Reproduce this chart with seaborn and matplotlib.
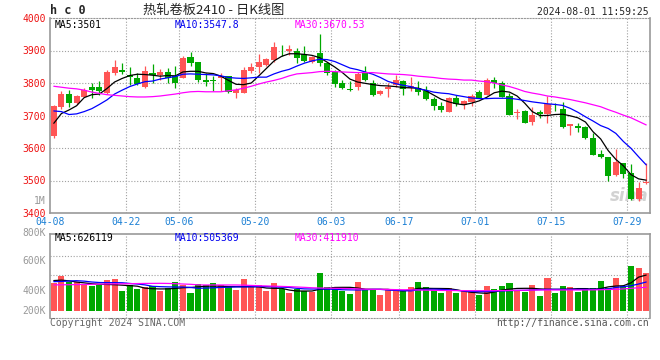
import numpy as np
import pandas as pd
import seaborn as sns
import matplotlib.pyplot as plt

# daily candles, 04-08 .. 07-31
opens = [3637, 3726, 3767, 3738, 3758, 3789, 3789, 3769, 3830, 3840,
         3825, 3815, 3789, 3832, 3825, 3834, 3820, 3814, 3880, 3865,
         3810, 3810, 3814, 3822, 3769, 3769, 3838, 3849, 3856, 3871,
         3903, 3899, 3899, 3889, 3866, 3892, 3863, 3835, 3800, 3782,
         3789, 3830, 3800, 3766, 3782, 3794, 3807, 3784, 3786,
         3774, 3751, 3730, 3712, 3753, 3733, 3743, 3771, 3764, 3810,
         3801, 3761, 3707, 3714, 3681, 3712, 3705, 3730, 3720, 3669,
         3669, 3666, 3632, 3582, 3571, 3518, 3554, 3524, 3442, 3491]
highs = [3732, 3776, 3779, 3762, 3785, 3801, 3807, 3840, 3871, 3862,
         3848, 3832, 3851, 3860, 3842, 3845, 3851, 3884, 3894, 3865,
         3832, 3823, 3830, 3822, 3786, 3850, 3862, 3889, 3877, 3926,
         3917, 3917, 3907, 3914, 3883, 3951, 3866, 3840, 3810, 3805,
         3835, 3853, 3808, 3779, 3799, 3825, 3810, 3818, 3807,
         3791, 3758, 3743, 3758, 3764, 3748, 3767, 3779, 3815, 3820,
         3807, 3769, 3720, 3717, 3726, 3717, 3761, 3740, 3743, 3674,
         3676, 3668, 3646, 3594, 3571, 3596, 3554, 3551, 3494, 3554]
lows = [3632, 3720, 3726, 3736, 3756, 3753, 3764, 3767, 3825, 3827,
        3794, 3794, 3784, 3799, 3810, 3799, 3784, 3814, 3853, 3802,
        3792, 3776, 3776, 3769, 3753, 3769, 3832, 3832, 3853, 3866,
        3882, 3887, 3861, 3864, 3861, 3853, 3825, 3789, 3781, 3774,
        3777, 3805, 3761, 3762, 3758, 3789, 3764, 3774, 3764,
        3748, 3717, 3712, 3710, 3730, 3720, 3730, 3753, 3762, 3786,
        3756, 3702, 3690, 3678, 3671, 3691, 3678, 3715, 3663, 3640,
        3648, 3628, 3579, 3569, 3500, 3515, 3509, 3439, 3436, 3488]
closes = [3728, 3767, 3740, 3760, 3779, 3779, 3774, 3834, 3848, 3835,
          3818, 3796, 3837, 3825, 3834, 3815, 3801, 3878, 3863, 3808,
          3804, 3805, 3822, 3771, 3779, 3840, 3849, 3865, 3874, 3910,
          3901, 3904, 3876, 3869, 3879, 3863, 3832, 3797, 3786, 3780,
          3828, 3810, 3764, 3776, 3789, 3808, 3781, 3791, 3773,
          3751, 3728, 3717, 3753, 3736, 3745, 3760, 3755, 3810, 3799,
          3758, 3702, 3712, 3678, 3702, 3705, 3736, 3728, 3666, 3674,
          3663, 3632, 3579, 3571, 3515, 3557, 3521, 3442, 3477, 3495]

ma5 = [3676, 3706, 3717, 3730, 3755, 3764, 3766, 3783, 3803, 3814,
       3823, 3827, 3826, 3824, 3821, 3823, 3822, 3834, 3836, 3836,
       3831, 3829, 3821, 3808, 3796, 3795, 3800, 3822, 3845, 3868,
       3882, 3890, 3890, 3888, 3885, 3878, 3864, 3849, 3832, 3812,
       3803, 3799, 3795, 3792, 3791, 3789, 3786, 3785, 3784,
       3776, 3763, 3750, 3742, 3736, 3733, 3738, 3745, 3756, 3770,
       3775, 3772, 3760, 3738, 3712, 3700, 3700, 3703, 3704, 3699,
       3693, 3680, 3650, 3628, 3592, 3565, 3545, 3518, 3505, 3501]
ma10 = [3714, 3712, 3703, 3705, 3712, 3721, 3734, 3748, 3766, 3778,
        3789, 3797, 3804, 3806, 3812, 3816, 3820, 3827, 3828, 3827,
        3826, 3825, 3822, 3817, 3815, 3814, 3816, 3818, 3818, 3828,
        3836, 3842, 3852, 3861, 3868, 3873, 3872, 3866, 3856, 3846,
        3841, 3834, 3827, 3817, 3805, 3798, 3793, 3789, 3782,
        3778, 3772, 3769, 3767, 3762, 3758, 3754, 3752, 3752, 3753,
        3753, 3753, 3750, 3746, 3742, 3739, 3736, 3734, 3731, 3722,
        3710, 3696, 3683, 3669, 3660, 3645, 3620, 3599, 3573, 3548]
ma30 = [3790, 3787, 3784, 3782, 3778, 3772, 3768, 3764, 3762, 3760,
        3758, 3757, 3757, 3758, 3760, 3763, 3766, 3770, 3773, 3774,
        3773, 3773, 3773, 3776, 3779, 3784, 3790, 3797, 3803, 3808,
        3814, 3822, 3828, 3830, 3832, 3835, 3836, 3835, 3834, 3833,
        3832, 3832, 3832, 3830, 3828, 3827, 3826, 3824, 3821,
        3819, 3817, 3814, 3812, 3811, 3809, 3809, 3806, 3804, 3800,
        3794, 3789, 3782, 3774, 3769, 3765, 3760, 3757, 3753, 3749,
        3744, 3739, 3733, 3727, 3718, 3710, 3701, 3693, 3682, 3671]

# volume, thousands of lots
volume = [482, 615, 511, 511, 465, 435, 453, 540, 557, 348,
          453, 378, 424, 435, 348, 406, 511, 453, 319, 470,
          453, 494, 453, 435, 366, 557, 412, 453, 354, 494,
          383, 319, 378, 348, 325, 667, 412, 424, 348, 296,
          511, 377, 377, 279, 377, 366, 354, 424, 511,
          424, 366, 319, 406, 319, 366, 337, 279, 435, 377,
          435, 494, 366, 337, 453, 261, 580, 308, 435, 412,
          337, 395, 395, 522, 395, 580, 435, 784, 755, 656]
vol_ma5 = [530, 538, 525, 505, 490, 475, 466, 462, 458, 450,
           442, 432, 398, 388, 384, 385, 393, 405, 410, 420,
           432, 435, 432, 425, 424, 424, 424, 420, 400, 395,
           395, 365, 348, 348, 348, 378, 390, 410, 412, 412,
           400, 380, 377, 377, 377, 360, 350, 365, 395,
           395, 393, 392, 390, 370, 345, 325, 315, 308, 330,
           365, 380, 393, 395, 395, 385, 378, 378, 378, 382,
           390, 390, 380, 390, 420, 435, 440, 490, 590, 626]
vol_ma10 = [511, 515, 522, 528, 520, 505, 496, 494, 494, 492,
            480, 470, 455, 430, 424, 420, 418, 418, 410, 395,
            400, 405, 410, 415, 420, 420, 422, 425, 425, 420,
            415, 410, 395, 385, 383, 385, 380, 378, 370, 368,
            366, 370, 377, 377, 365, 360, 355, 350, 370,
            377, 380, 377, 370, 360, 348, 340, 337, 338, 345,
            350, 354, 358, 360, 366, 372, 377, 377, 377, 377,
            377, 377, 377, 377, 385, 410, 424, 440, 470, 505]
vol_ma30 = [455, 456, 458, 460, 462, 465, 468, 470, 472, 474,
            476, 478, 480, 481, 482, 480, 476, 470, 465, 455,
            453, 453, 453, 453, 453, 450, 445, 440, 436, 432,
            428, 424, 418, 412, 405, 400, 398, 395, 393, 390,
            385, 380, 378, 378, 376, 372, 370, 370, 366,
            363, 360, 358, 357, 356, 355, 354, 354, 354, 354,
            356, 358, 360, 362, 364, 366, 366, 366, 366, 366,
            366, 366, 368, 370, 374, 378, 385, 395, 405, 412]

tick_days = [0, 10, 17, 27, 37, 46, 56, 66, 76]
tick_labels = ['04-08', '04-22', '05-06', '05-20', '06-03', '06-17', '07-01', '07-15', '07-29']
price_ticks = [3400, 3500, 3600, 3700, 3800, 3900, 4000]

RED = '#ff5555'
GREEN = '#00a800'
GRID = '#a0a0a0'
MONO = 'DejaVu Sans Mono'
FS = 7

sns.set_style('white')
plt.rcParams['font.family'] = ['DejaVu Sans Mono', 'Noto Sans CJK SC']

n = len(closes)
df = pd.DataFrame({'day': np.arange(n), 'open': opens, 'high': highs, 'low': lows,
                   'close': closes, 'ma5': ma5, 'ma10': ma10, 'ma30': ma30,
                   'vol': np.array(volume) * 1000.0, 'vma5': np.array(vol_ma5) * 1000.0,
                   'vma10': np.array(vol_ma10) * 1000.0, 'vma30': np.array(vol_ma30) * 1000.0})
df['up'] = np.where(df['close'] >= df['open'], 'up', 'down')

W, H = 660, 360
fig = plt.figure(figsize=(W / 100, H / 100), dpi=100)
ax = fig.add_axes([50 / W, 1 - 213 / H, 600 / W, 195 / H])
axv = fig.add_axes([50 / W, 1 - 318 / H, 600 / W, 84 / H])

dots = (0, (1, 1.6))
for a in (ax, axv):
    a.set_xlim(-0.5, n - 0.5)
    for d in tick_days[1:]:
        a.axvline(d - 0.5, color=GRID, lw=0.8, ls=dots, zorder=0)
    for s in ('left', 'right', 'bottom', 'top'):
        a.spines[s].set_color('#999999')
        a.spines[s].set_linewidth(1.2)
    a.tick_params(length=0)

# price panel
ax.set_ylim(3400, 4000)
for p in price_ticks[1:-1]:
    ax.axhline(p, color=GRID, lw=0.8, ls=dots, zorder=0)
ax.spines['top'].set_linestyle(dots)
ax.spines['top'].set_linewidth(0.8)

colors = np.where(df['up'] == 'up', RED, GREEN)
ax.vlines(df['day'], df['low'], df['high'], colors=colors, lw=0.9, zorder=2)
body_lo = np.minimum(df['open'], df['close'])
body_h = np.maximum(np.abs(df['close'] - df['open']), 1.2)
ax.bar(df['day'], body_h, bottom=body_lo, width=0.8, color=colors, lw=0, zorder=3)

for col, c in (('ma5', 'black'), ('ma10', '#0000ff'), ('ma30', '#ff00ff')):
    sns.lineplot(data=df, x='day', y=col, color=c, lw=0.9, ax=ax, zorder=4)

ax.set_yticks(price_ticks)
ax.set_yticklabels([str(p) for p in price_ticks], color='#ee1111', fontsize=FS, family=MONO)
ax.set_xticks([d - 0.5 for d in tick_days])
ax.set_xticklabels(tick_labels, color='#1a7fd4', fontsize=FS, family=MONO)
ax.tick_params(axis='y', pad=3)
ax.tick_params(axis='x', pad=3)
ax.set_xlabel('')
ax.set_ylabel('')
ax.text(0.008, 0.965, 'MA5:3501', transform=ax.transAxes, fontsize=FS, color='black', va='center', family=MONO)
ax.text(0.207, 0.965, 'MA10:3547.8', transform=ax.transAxes, fontsize=FS, color='#0000ee', va='center', family=MONO)
ax.text(0.408, 0.965, 'MA30:3670.53', transform=ax.transAxes, fontsize=FS, color='#ff00ff', va='center', family=MONO)
ax.text(0.998, 0.085, 'sina', transform=ax.transAxes, fontsize=12, color='#d2d2d2', ha='right',
        va='center', weight='bold', style='italic', family='DejaVu Sans', zorder=1)

# volume panel
vscale = 17416.0
axv.set_ylim(-7 * vscale, 77 * vscale)
for y in (256, 275):
    axv.axhline((311 - y) * vscale, color=GRID, lw=0.8, ls=dots, zorder=0)
axv.spines['bottom'].set_linestyle(dots)
axv.spines['bottom'].set_linewidth(0.8)
sns.barplot(data=df, x='day', y='vol', hue='up', palette={'up': RED, 'down': GREEN},
            native_scale=True, width=0.8, saturation=1, legend=False, ax=axv, zorder=2, linewidth=0)
for col, c in (('vma5', 'black'), ('vma10', '#0000ff'), ('vma30', '#ff00ff')):
    sns.lineplot(data=df, x='day', y=col, color=c, lw=0.9, ax=axv, zorder=4)
axv.set_xlim(-0.5, n - 0.5)
axv.set_xticks([])
axv.set_yticks([])
axv.set_xlabel('')
axv.set_ylabel('')
axv.text(0.008, 0.95, 'MA5:626119', transform=axv.transAxes, fontsize=FS, color='black', va='center', family=MONO)
axv.text(0.207, 0.95, 'MA10:505369', transform=axv.transAxes, fontsize=FS, color='#0000ee', va='center', family=MONO)
axv.text(0.408, 0.95, 'MA30:411910', transform=axv.transAxes, fontsize=FS, color='#ff00ff', va='center', family=MONO)

# gray volume labels on the left (positions as in the source chart)
for label, ypx in (('1M', 200.5), ('800K', 233), ('600K', 261), ('400K', 291), ('200K', 311)):
    fig.text(46 / W, 1 - ypx / H, label, ha='right', va='center', fontsize=FS, color='#999999', family=MONO)

# header and footer
fig.text(50 / W, 1 - 11 / H, 'h c 0', fontsize=8.5, weight='bold', va='center', family=MONO)
fig.text(214 / W, 1 - 10 / H, '热轧卷板2410 - 日K线图', fontsize=9.5, ha='center', va='center',
         family=['Noto Sans CJK SC', 'DejaVu Sans'])
fig.text(649 / W, 1 - 12 / H, '2024-08-01 11:59:25', fontsize=FS, ha='right', va='center', family=MONO)
fig.text(50 / W, 1 - 323 / H, 'Copyright 2024 SINA.COM', fontsize=FS, va='center', color='#666666', family=MONO)
fig.text(649 / W, 1 - 323 / H, 'http://finance.sina.com.cn', fontsize=FS, ha='right', va='center',
         color='#555555', family=MONO)

fig.savefig('out.png', dpi=100)
